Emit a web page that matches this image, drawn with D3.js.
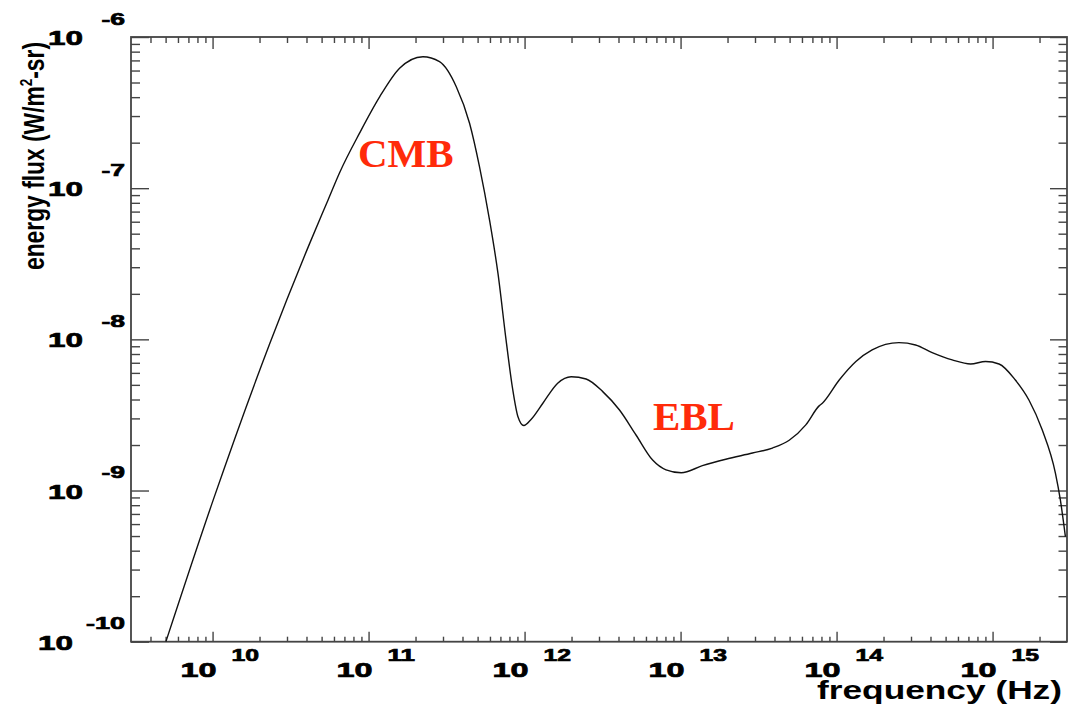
<!DOCTYPE html>
<html>
<head>
<meta charset="utf-8">
<script src="https://cdn.jsdelivr.net/npm/d3@7"></script>
<style>
  html, body { margin: 0; padding: 0; background: #fff; }
  svg { display: block; }
  text { font-family: "Liberation Sans", Arial, Helvetica, sans-serif; font-weight: bold; fill: #000; }
  text.tick-label { stroke: #000; stroke-width: 0.7px; }
</style>
</head>
<body>
<svg id="chart" width="1070" height="705"></svg>
<script>
// Frequency (Hz) of the sampled spectrum points
const frequency = [
  5.02e9, 1.01e10, 2.33e10, 4.20e10, 5.50e10, 6.53e10, 8.77e10,
  1.18e11, 1.58e11, 2.23e11, 2.85e11, 3.65e11, 4.44e11, 5.14e11, 5.96e11, 6.75e11, 7.62e11, 8.39e11, 9.06e11, 9.89e11,
  1.10e12, 1.31e12, 1.63e12, 1.99e12, 2.48e12, 3.17e12, 4.06e12, 5.18e12, 6.62e12, 8.07e12,
  1.01e13, 1.38e13, 1.95e13, 2.89e13, 3.88e13, 4.97e13, 6.35e13, 7.73e13, 8.11e13,
  1.04e14, 1.33e14, 1.69e14, 2.51e14, 3.21e14, 4.10e14, 5.51e14, 7.23e14, 9.02e14,
  1.10e15, 1.40e15, 1.71e15, 2.08e15, 2.53e15, 2.72e15, 2.93e15
];
// Energy flux (W/m^2-sr) at each frequency
const energyFlux = [
  1.00e-10, 8.67e-10, 9.42e-9, 4.33e-8, 8.36e-8, 1.27e-7, 2.32e-7,
  4.03e-7, 6.21e-7, 7.41e-7, 6.87e-7, 4.69e-7, 2.69e-7, 1.39e-7, 6.17e-8, 2.74e-8, 9.8e-9, 4.68e-9, 3.09e-9, 2.69e-9,
  2.95e-9, 3.78e-9, 5.13e-9, 5.66e-9, 5.47e-9, 4.51e-9, 3.41e-9, 2.33e-9, 1.59e-9, 1.37e-9,
  1.31e-9, 1.46e-9, 1.61e-9, 1.77e-9, 1.91e-9, 2.15e-9, 2.72e-9, 3.63e-9, 3.78e-9,
  5.38e-9, 7.13e-9, 8.51e-9, 9.51e-9, 9.18e-9, 8.17e-9, 7.31e-9, 6.87e-9, 7.13e-9,
  6.87e-9, 5.38e-9, 3.97e-9, 2.52e-9, 1.30e-9, 8.67e-10, 4.95e-10
];
// Decade exponents labelled on each axis
const xDecades = [10, 11, 12, 13, 14, 15];
const yDecades = [-10, -9, -8, -7, -6];
// Region annotations (anchored at their text baseline start)
const annotations = [
  { text: "CMB", freq: 8.55e10, flux: 1.39e-7 },
  { text: "EBL", freq: 6.65e12, flux: 2.52e-9 }
];

const svg = d3.select("#chart");
const plotLeft = 131, plotRight = 1067, plotTop = 37, plotBottom = 641.7;

const x = d3.scaleLog().domain([3e9, 3e15]).range([plotLeft, plotRight]);
const y = d3.scaleLog().domain([1e-10, 1e-6]).range([plotBottom, plotTop]);

// minor tick positions (2..9 multiples of each decade)
function minorTicks(scale) {
  const [d0, d1] = scale.domain();
  const out = [];
  for (let e = Math.floor(Math.log10(d0)); e <= Math.ceil(Math.log10(d1)); e++) {
    for (let k = 2; k <= 9; k++) {
      const v = k * Math.pow(10, e);
      if (v > d0 * 1.01 && v < d1 * 0.99) out.push(v);
    }
  }
  return out;
}
const xMajor = xDecades.map(e => Math.pow(10, e));
const yMajor = yDecades.map(e => Math.pow(10, e));
const xMinor = minorTicks(x);
const yMinor = minorTicks(y);

const axisColor = "#444";
function styleAxis(g) {
  g.select(".domain").remove();
  g.selectAll(".tick line").attr("stroke", axisColor).attr("stroke-width", 1.4);
  g.selectAll(".tick text").remove();
}

// bottom axis (ticks pointing inwards)
svg.append("g").attr("transform", `translate(0,${plotBottom})`)
  .call(d3.axisBottom(x).tickValues(xMinor).tickSize(-5).tickFormat("")).call(styleAxis);
svg.append("g").attr("transform", `translate(0,${plotBottom})`)
  .call(d3.axisBottom(x).tickValues(xMajor).tickSize(-10).tickFormat("")).call(styleAxis);
// top axis
svg.append("g").attr("transform", `translate(0,${plotTop})`)
  .call(d3.axisTop(x).tickValues(xMinor).tickSize(-6).tickFormat("")).call(styleAxis);
svg.append("g").attr("transform", `translate(0,${plotTop})`)
  .call(d3.axisTop(x).tickValues(xMajor).tickSize(-12).tickFormat("")).call(styleAxis);
// left axis
svg.append("g").attr("transform", `translate(${plotLeft},0)`)
  .call(d3.axisLeft(y).tickValues(yMinor).tickSize(-9).tickFormat("")).call(styleAxis);
svg.append("g").attr("transform", `translate(${plotLeft},0)`)
  .call(d3.axisLeft(y).tickValues(yMajor).tickSize(-18).tickFormat("")).call(styleAxis);
// right axis
svg.append("g").attr("transform", `translate(${plotRight},0)`)
  .call(d3.axisRight(y).tickValues(yMinor).tickSize(-8.5).tickFormat("")).call(styleAxis);
svg.append("g").attr("transform", `translate(${plotRight},0)`)
  .call(d3.axisRight(y).tickValues(yMajor).tickSize(-17).tickFormat("")).call(styleAxis);

// frame
svg.append("rect")
  .attr("x", plotLeft).attr("y", plotTop)
  .attr("width", plotRight - plotLeft).attr("height", plotBottom - plotTop)
  .attr("fill", "none").attr("stroke", axisColor).attr("stroke-width", 1.8);

// x tick labels: 10 with superscript exponent
xDecades.forEach(e => {
  const px = x(Math.pow(10, e));
  svg.append("text").attr("class", "tick-label").attr("x", px - 32).attr("y", 677)
    .attr("font-size", 20).attr("textLength", 36).attr("lengthAdjust", "spacingAndGlyphs")
    .text("10");
  svg.append("text").attr("class", "tick-label").attr("x", px + 19).attr("y", 661)
    .attr("font-size", 16.5).attr("textLength", 27.5).attr("lengthAdjust", "spacingAndGlyphs")
    .text(String(e));
});

// y tick labels
yDecades.forEach(e => {
  const py = y(Math.pow(10, e));
  const s = String(e);
  const expW = s.length > 2 ? 39 : 23.5;
  const gap = s.length > 2 ? 13 : 18.5;
  svg.append("text").attr("class", "tick-label").attr("x", 125).attr("y", py - 12.5).attr("text-anchor", "end")
    .attr("font-size", 16.5).attr("textLength", expW).attr("lengthAdjust", "spacingAndGlyphs")
    .text(s);
  svg.append("text").attr("class", "tick-label").attr("x", 125 - expW - gap).attr("y", py + 8).attr("text-anchor", "end")
    .attr("font-size", 21).attr("textLength", 35).attr("lengthAdjust", "spacingAndGlyphs")
    .text("10");
});

// axis titles
svg.append("text").attr("x", 1062).attr("y", 698.5).attr("text-anchor", "end")
  .attr("font-size", 25).attr("textLength", 245).attr("lengthAdjust", "spacingAndGlyphs")
  .text("frequency (Hz)");

const yTitle = svg.append("g").attr("transform", "translate(44,156) scale(1.33,1) rotate(-90)")
  .append("text").attr("text-anchor", "middle")
  .style("font-family", "'Liberation Sans Narrow', 'Liberation Sans', Arial, sans-serif")
  .attr("font-size", 22).attr("textLength", 228).attr("lengthAdjust", "spacingAndGlyphs");
yTitle.append("tspan").text("energy flux (W/m");
yTitle.append("tspan").attr("font-size", 13).attr("dy", -9).text("2");
yTitle.append("tspan").attr("dy", 9).text("-sr)");

// spectrum curve
svg.append("clipPath").attr("id", "plotArea")
  .append("rect").attr("x", plotLeft).attr("y", plotTop)
  .attr("width", plotRight - plotLeft).attr("height", plotBottom - plotTop);

const points = frequency.map((f, i) => [f, energyFlux[i]]);
const line = d3.line()
  .x(d => x(d[0]))
  .y(d => y(d[1]))
  .curve(d3.curveMonotoneX);

svg.append("path")
  .datum(points)
  .attr("clip-path", "url(#plotArea)")
  .attr("d", line)
  .attr("fill", "none")
  .attr("stroke", "#111")
  .attr("stroke-width", 1.4);

// region labels
svg.selectAll(".region").data(annotations).enter().append("text")
  .attr("class", "region")
  .attr("x", d => x(d.freq)).attr("y", d => y(d.flux))
  .style("font-family", "'Liberation Serif', 'Times New Roman', serif")
  .style("font-weight", "bold")
  .style("font-size", "41px")
  .style("fill", "#ff2b0a")
  .text(d => d.text);
</script>
</body>
</html>
